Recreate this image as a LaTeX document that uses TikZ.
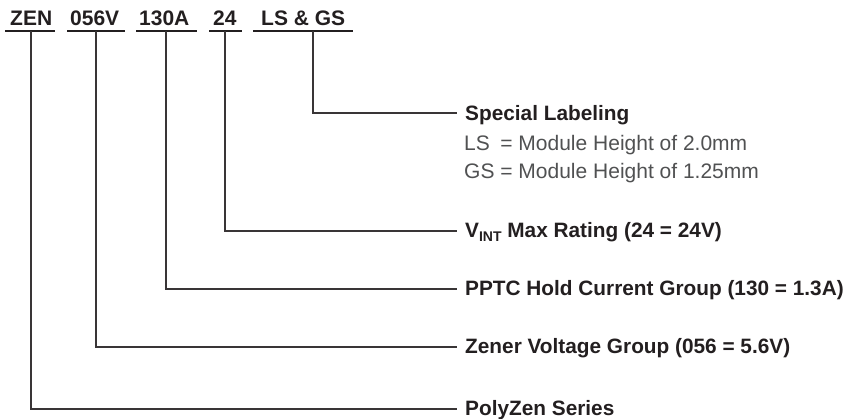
\documentclass[tikz,border=0pt]{standalone}
\usepackage{fontspec}
\setmainfont{Liberation Sans}
\definecolor{ink}{HTML}{231F20}
\definecolor{greytext}{HTML}{505152}
\begin{document}
\begin{tikzpicture}[x=1pt,y=-1pt,
  code/.style={anchor=base west,inner sep=0pt,font=\fontsize{21}{25}\selectfont\bfseries,text=ink},
  title/.style={anchor=base west,inner sep=0pt,font=\fontsize{20.8}{25}\selectfont\bfseries,text=ink},
  plain/.style={anchor=base west,inner sep=0pt,font=\fontsize{21}{25}\selectfont,text=greytext},
  uline/.style={draw=ink,line width=2.3pt},
  conn/.style={draw=ink!90,line width=1.4pt}]
\useasboundingbox (0,0) rectangle (846,419);
% top code
\node[code] (zen) at (10,26) {ZEN};
\node[code] (volt) at (70,26) {056V};
\node[code] (cur) at (139,26) {130A};
\node[code] (vint) at (213,26) {24};
\node[code] (lsgs) at (261,26) {LS \& GS};
\draw[uline] (5,31) -- (55,31);
\draw[uline] (67,31) -- (125,31);
\draw[uline] (136,31) -- (197,31);
\draw[uline] (209,31) -- (242,31);
\draw[uline] (253,31) -- (353,31);
\coordinate (czen) at (31,31);
\coordinate (cvolt) at (96,31);
\coordinate (ccur) at (166,31);
\coordinate (cvint) at (225,31);
\coordinate (clsgs) at (313,31);
% right labels
\node[title] (special) at (465,121) {Special Labeling};
\node[plain] (ls) at (464,151) {\rlap{LS}\phantom{GS} = Module Height of 2.0mm};
\node[plain] (gs) at (464,179) {GS = Module Height of 1.25mm};
\node[title] (vmax) at (465,238) {V\raisebox{-4pt}{\fontsize{14}{14}\selectfont INT} Max Rating (24 = 24V)};
\node[title] (pptc) at (465,296) {PPTC Hold Current Group (130 = 1.3A)};
\node[title] (zener) at (465,354) {Zener Voltage Group (056 = 5.6V)};
\node[title] (poly) at (465,416) {PolyZen Series};
% connectors
\draw[conn] (clsgs) |- ([xshift=-8pt,yshift=8pt]special.base west);
\draw[conn] (cvint) |- ([xshift=-8pt,yshift=7pt]vmax.base west);
\draw[conn] (ccur) |- ([xshift=-8pt,yshift=7pt]pptc.base west);
\draw[conn] (cvolt) |- ([xshift=-8pt,yshift=7pt]zener.base west);
\draw[conn] (czen) |- ([xshift=-8pt,yshift=7pt]poly.base west);
\end{tikzpicture}
\end{document}
